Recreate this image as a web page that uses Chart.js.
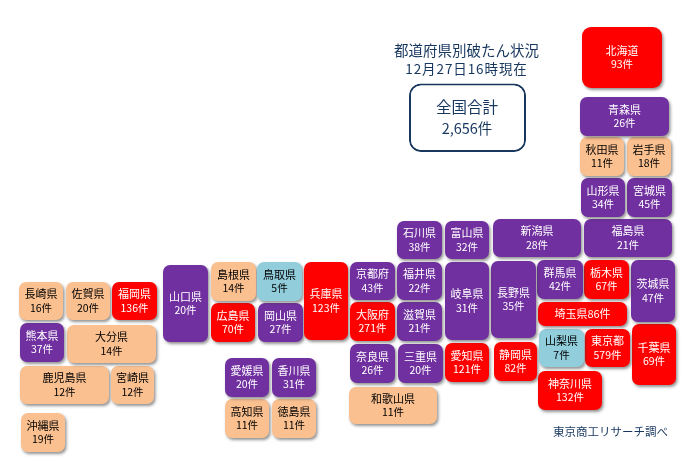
<!DOCTYPE html>
<html lang="ja">
<head>
<meta charset="utf-8">
<style>html,body{margin:0;padding:0;background:#fff}canvas{display:block}</style>
<script src="https://cdn.jsdelivr.net/npm/chart.js@4/dist/chart.umd.min.js"></script>
</head>
<body>
<canvas id="c" width="696" height="461"></canvas>
<script>
// ---- values ----
const prefectures = ["北海道","青森県","秋田県","岩手県","山形県","宮城県","福島県","新潟県","富山県","石川県","福井県","京都府","大阪府","滋賀県","岐阜県","長野県","群馬県","栃木県","茨城県","埼玉県","山梨県","東京都","千葉県","神奈川県","静岡県","愛知県","三重県","奈良県","和歌山県","兵庫県","鳥取県","島根県","岡山県","広島県","山口県","香川県","徳島県","愛媛県","高知県","福岡県","佐賀県","長崎県","熊本県","大分県","宮崎県","鹿児島県","沖縄県"];
const counts = [93,26,11,18,34,45,21,28,32,38,22,43,271,21,31,35,42,67,47,86,7,579,69,132,82,121,20,26,11,123,5,14,27,70,20,31,11,20,11,136,20,16,37,14,12,12,19];
// colour class per tile: b = blue, p = peach, v = violet, r = red
const classes = ["r","v","p","p","v","v","v","v","v","v","v","v","r","v","v","v","v","r","v","r","b","r","r","r","r","r","v","v","p","r","b","p","v","r","v","v","p","v","p","r","p","p","v","p","p","p","p"];
// tile-map cell extents on the map's x / y axes
const cellLeft   = [582,580,580,627,581,627,584,493,445,397,397,350,350,397,445,491,537,584,631,538,539,585,632,538,494,445,398,350,349,304,257,211,258,211,163,272,272,225,225,112,66,19,20,67,111,20,21];
const cellRight  = [662,669,624,671,625,672,672,581,489,442,442,395,395,442,489,536,583,629,675,627,584,630,676,602,537,489,443,395,437,348,302,256,303,255,208,316,316,269,269,157,110,63,64,156,154,109,65];
const cellTop    = [27,97,137,137,178,178,219,219,221,221,262,262,302,302,262,261,260,260,260,302,329,329,324,371,342,343,344,344,387,262,262,262,303,303,265,358,399,358,399,282,282,282,323,325,366,366,413];
const cellBottom = [88,136,176,176,217,217,257,257,259,259,300,300,341,341,340,338,299,299,322,326,367,367,385,410,381,382,383,383,424,340,301,301,342,342,342,397,438,397,438,320,320,320,362,363,404,404,452];

const titleLines = ["都道府県別破たん状況","12月27日16時現在"];
const totalLabel = "全国合計";
const totalValue = "2,656件";
const sourceLabel = "東京商工リサーチ調べ";

// ---- styles ----
const FONT = '"Noto Sans CJK JP","Noto Sans",sans-serif';
const NAVY = "#17375E";
const fills = {b:"#92CDDC", p:"#FAC090", v:"#7030A0", r:"#FF0000"};
const inks  = {b:"#000000", p:"#000000", v:"#FFFFFF", r:"#FFFFFF"};

const baseBar = {grouped:false, borderSkipped:false, inflateAmount:0, borderWidth:0};
const tileSets = prefectures.map((name,i)=>({
  ...baseBar,
  label:name,
  count:counts[i],
  cls:classes[i],
  tile:true,
  barThickness:cellRight[i]-cellLeft[i],
  backgroundColor:fills[classes[i]],
  borderRadius: name==="北海道" ? 9 : 7,
  data:[{x:(cellLeft[i]+cellRight[i])/2, y:[cellTop[i],cellBottom[i]]}]
}));
const totalSet = {
  ...baseBar,
  label:totalLabel,
  barThickness:117,
  backgroundColor:"#FFFFFF",
  borderColor:NAVY,
  borderWidth:2,
  borderRadius:12,
  data:[{x:467.5, y:[83.5,152]}]
};

const tilePlugin = {
  id:"tileMap",
  beforeDatasetDraw(chart,args){
    const ds = chart.data.datasets[args.index];
    const ctx = chart.ctx;
    ctx.save();
    if(ds.tile){
      ctx.shadowColor="rgba(60,60,60,0.55)";
      ctx.shadowBlur=3;
      ctx.shadowOffsetX=1.5;
      ctx.shadowOffsetY=2;
    }
  },
  afterDatasetDraw(chart){ chart.ctx.restore(); },
  afterDatasetsDraw(chart){
    const ctx = chart.ctx;
    const x = chart.scales.x, y = chart.scales.y;
    ctx.save();
    ctx.textAlign="center";
    ctx.textBaseline="middle";
    chart.data.datasets.forEach((ds,i)=>{
      if(!ds.tile) return;
      const bar = chart.getDatasetMeta(i).data[0];
      const cx = bar.x, cy = (bar.y+bar.base)/2;
      ctx.fillStyle = inks[ds.cls];
      ctx.font = "11px "+FONT;
      if(ds.label==="埼玉県"){
        ctx.fillText(ds.label+ds.count+"件",cx,cy);
      }else{
        ctx.fillText(ds.label,cx,cy-7);
        ctx.font = "10.5px "+FONT;
        ctx.fillText(ds.count+"件",cx,cy+7);
      }
    });
    ctx.fillStyle=NAVY;
    ctx.font="14.5px "+FONT;
    ctx.fillText(titleLines[0],x.getPixelForValue(466.5),y.getPixelForValue(50));
    ctx.font="13.5px "+FONT;
    ctx.letterSpacing="0.9px";
    ctx.fillText(titleLines[1],x.getPixelForValue(466.5),y.getPixelForValue(69));
    ctx.letterSpacing="0px";
    ctx.font="15.5px "+FONT;
    ctx.fillText(totalLabel,x.getPixelForValue(467),y.getPixelForValue(107));
    ctx.font="14.5px "+FONT;
    ctx.fillText(totalValue,x.getPixelForValue(467),y.getPixelForValue(128));
    ctx.font="11.5px "+FONT;
    ctx.fillText(sourceLabel,x.getPixelForValue(610.5),y.getPixelForValue(431.5));
    ctx.restore();
  }
};

new Chart(document.getElementById("c"),{
  type:"bar",
  data:{datasets:[totalSet,...tileSets]},
  plugins:[tilePlugin],
  options:{
    responsive:false,
    animation:false,
    layout:{padding:0},
    plugins:{legend:{display:false},title:{display:false},tooltip:{enabled:false}},
    scales:{
      x:{type:"linear",min:0,max:696,display:false,offset:false},
      y:{type:"linear",min:0,max:461,reverse:true,display:false}
    }
  }
});
</script>
</body>
</html>
